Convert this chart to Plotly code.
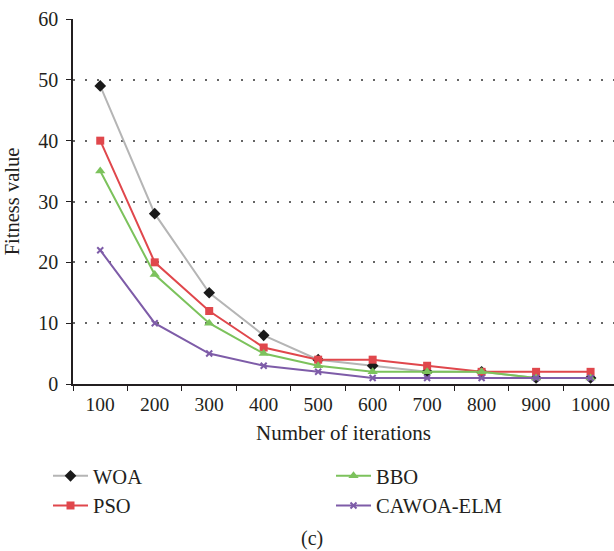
import plotly.graph_objects as go

iterations = ["100", "200", "300", "400", "500", "600", "700", "800", "900", "1000"]
woa = [49, 28, 15, 8, 4, 3, 2, 2, 1, 1]
pso = [40, 20, 12, 6, 4, 4, 3, 2, 2, 2]
bbo = [35, 18, 10, 5, 3, 2, 2, 2, 1, 1]
cawoa = [22, 10, 5, 3, 2, 1, 1, 1, 1, 1]
y_ticks = [0, 10, 20, 30, 40, 50, 60]

FONT = "Liberation Serif"

fig = go.Figure()
fig.add_trace(go.Scatter(x=iterations, y=woa, name="WOA", mode="lines+markers",
                         line=dict(color="#b5b5b5", width=2),
                         marker=dict(symbol="diamond", size=9, color="#1a1a1a"),
                         legendrank=1))
fig.add_trace(go.Scatter(x=iterations, y=pso, name="PSO", mode="lines+markers",
                         line=dict(color="#e0474c", width=2),
                         marker=dict(symbol="square", size=8, color="#e0474c"),
                         legendrank=3))
fig.add_trace(go.Scatter(x=iterations, y=bbo, name="BBO", mode="lines+markers",
                         line=dict(color="#7cc25c", width=2),
                         marker=dict(symbol="triangle-up", size=9, color="#7cc25c"),
                         legendrank=2))
fig.add_trace(go.Scatter(x=iterations, y=cawoa, name="CAWOA-ELM", mode="lines+markers",
                         line=dict(color="#7e5ca8", width=2),
                         marker=dict(symbol="x-thin", size=6, color="#7e5ca8",
                                     line=dict(color="#7e5ca8", width=2)),
                         legendrank=4))

plot_w = 541
plot_h = 551 - 19 - 167

fig.update_layout(
    width=614, height=551,
    margin=dict(l=73, r=0, t=19, b=167),
    paper_bgcolor="white", plot_bgcolor="white",
    font=dict(family=FONT, size=20, color="#231f20"),
    showlegend=True,
    legend=dict(orientation="h", x=(70 - 73) / plot_w, xanchor="left",
                y=(384 - 456) / plot_h, yanchor="top",
                entrywidth=233, font=dict(size=20.5, family=FONT),
                bgcolor="rgba(0,0,0,0)", itemwidth=35),
    xaxis=dict(type="category", range=[-0.5, 9.43], showgrid=False,
               showline=True, linecolor="#231f20", linewidth=1.5,
               ticks="outside", tickson="boundaries", ticklen=5, tickcolor="#231f20",
               ticklabelstandoff=2,
               tickfont=dict(size=19.5, family=FONT),
               title=dict(text="Number of iterations", font=dict(size=21, family=FONT), standoff=11)),
    yaxis=dict(range=[0, 60], tickvals=y_ticks, showgrid=True,
               gridcolor="#666666", griddash="2px,10px", gridwidth=1.5,
               showline=True, linecolor="#231f20", linewidth=1.5,
               ticks="outside", ticklen=5, tickcolor="#231f20",
               ticklabelstandoff=4,
               tickfont=dict(size=20, family=FONT), zeroline=False,
               title=dict(text="Fitness value", font=dict(size=20.5, family=FONT), standoff=13)),
    annotations=[dict(text="(c)", x=(312 - 73) / plot_w, xref="paper", xanchor="center",
                      y=(384 - 538) / plot_h, yref="paper", yanchor="middle", showarrow=False,
                      font=dict(size=20, family=FONT))],
)

fig.write_html("out.html", config={"displayModeBar": False},
               post_script="document.body.style.margin='0';")
